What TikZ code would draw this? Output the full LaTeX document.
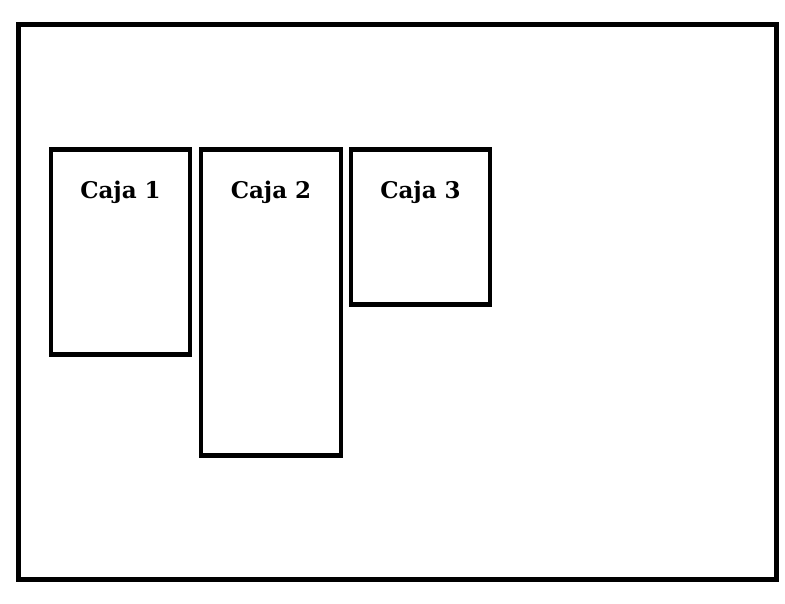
\documentclass[tikz,border=0pt]{standalone}
\usepackage{fontspec}
\setmainfont{DejaVu Serif}
\usetikzlibrary{positioning}

\begin{document}
\begin{tikzpicture}[x=1pt, y=-1pt, line width=4.5pt,
                    caja/.style={rectangle,draw,inner sep=0pt,outer sep=0pt,anchor=north west},
                    caja label/.style={font=\fontsize{23}{26}\selectfont\bfseries,inner sep=0pt}]

  \useasboundingbox (0,0) rectangle (785,604);
  \node[caja,minimum width=758pt,minimum height=555pt] (marco) at (18.5,24.5) {};

  \node[caja,minimum width=139pt,minimum height=205pt] (c1) at (51,149.5) {};
    \node[caja,minimum width=140pt,minimum height=306pt] (c2) at (201,149.5) {};
      \node[caja,minimum width=139pt,minimum height=155pt] (c3) at (351,149.5) {};

  \node[caja label] (t1) at ([yshift=-43pt]c1.north) {Caja 1};
  \node[caja label] (t2) at ([yshift=-43pt]c2.north) {Caja 2};
  \node[caja label] (t3) at ([yshift=-43pt]c3.north) {Caja 3};

\end{tikzpicture}
\end{document}
